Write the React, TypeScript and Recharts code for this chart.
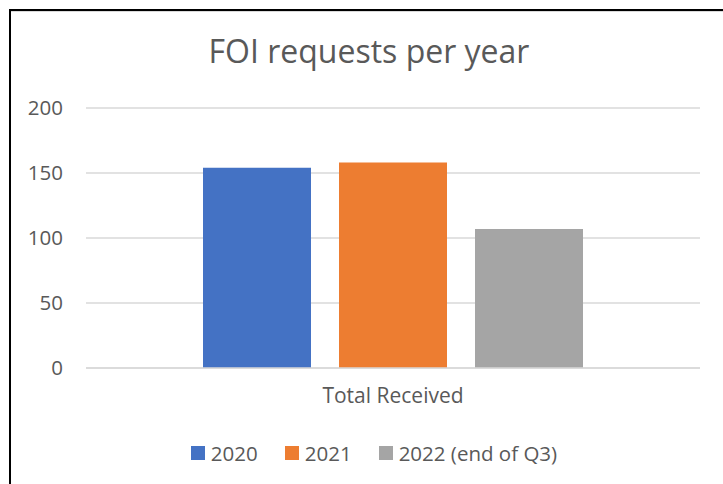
import { BarChart, Bar, XAxis, YAxis, CartesianGrid, Legend } from 'recharts';

const categories = ['Total Received'];
const series = ['2020', '2021', '2022 (end of Q3)'];
const values2020 = [154];
const values2021 = [158];
const values2022 = [107];
const yTicks = [0, 50, 100, 150, 200];

const colors = ['#4472C4', '#ED7D31', '#A5A5A5'];
const textColor = '#595959';
const font = '"Open Sans", Lato, sans-serif';

const data = categories.map((name, i) => ({
  name,
  s0: values2020[i],
  s1: values2021[i],
  s2: values2022[i],
}));

function LegendBox({ payload }: any) {
  return (
    <div style={{ height: 30, paddingLeft: 48, boxSizing: 'border-box', display: 'flex', justifyContent: 'center', alignItems: 'center', fontFamily: font, fontSize: 20.5, color: textColor }}>
      {(payload || []).map((p: any, i: number) => (
        <div key={i} style={{ display: 'flex', alignItems: 'center', marginRight: i < 2 ? 27 : 0 }}>
          <span style={{ display: 'inline-block', width: 14, height: 14, background: p.color, marginRight: 6 }} />
          <span>{p.value}</span>
        </div>
      ))}
    </div>
  );
}

export default function App() {
  return (
    <div style={{ position: 'absolute', left: 0, top: 0, width: 723, height: 484, background: '#fff', overflow: 'hidden' }}>
      <div style={{ position: 'absolute', left: 9, top: 9, width: 760, height: 520, borderTop: '2px solid #000', borderLeft: '2px solid #000', boxSizing: 'border-box' }} />
      <div style={{ position: 'absolute', left: 11, top: 11, width: 760, height: 1, background: '#d9d9d9' }} />
      <div style={{ position: 'absolute', left: 9, width: 720, top: 29, textAlign: 'center', fontFamily: font, fontSize: 32, color: textColor }}>
        FOI requests per year
      </div>
      <div style={{ position: 'absolute', left: 0, top: 0 }}>
        <BarChart
          width={723}
          height={484}
          data={data}
          margin={{ top: 108, right: 23, left: 0, bottom: 16 }}
          barCategoryGap={117}
          barGap={28}
        >
          <CartesianGrid vertical={false} stroke="#d9d9d9" strokeWidth={1.5} />
          <XAxis
            dataKey="name"
            height={70}
            tickLine={false}
            tickSize={0}
            tickMargin={20}
            axisLine={{ stroke: '#d9d9d9', strokeWidth: 1.5 }}
            tick={{ fill: textColor, fontSize: 21, fontFamily: font }}
          />
          <YAxis
            width={86}
            domain={[0, 200]}
            ticks={yTicks}
            axisLine={false}
            tickLine={false}
            tickSize={0}
            tickMargin={23}
            tick={{ fill: textColor, fontSize: 20.5, fontFamily: font }}
          />
          <Legend verticalAlign="bottom" height={30} content={<LegendBox />} />
          <Bar dataKey="s0" name={series[0]} fill={colors[0]} isAnimationActive={false} />
          <Bar dataKey="s1" name={series[1]} fill={colors[1]} isAnimationActive={false} />
          <Bar dataKey="s2" name={series[2]} fill={colors[2]} isAnimationActive={false} />
        </BarChart>
      </div>
    </div>
  );
}
